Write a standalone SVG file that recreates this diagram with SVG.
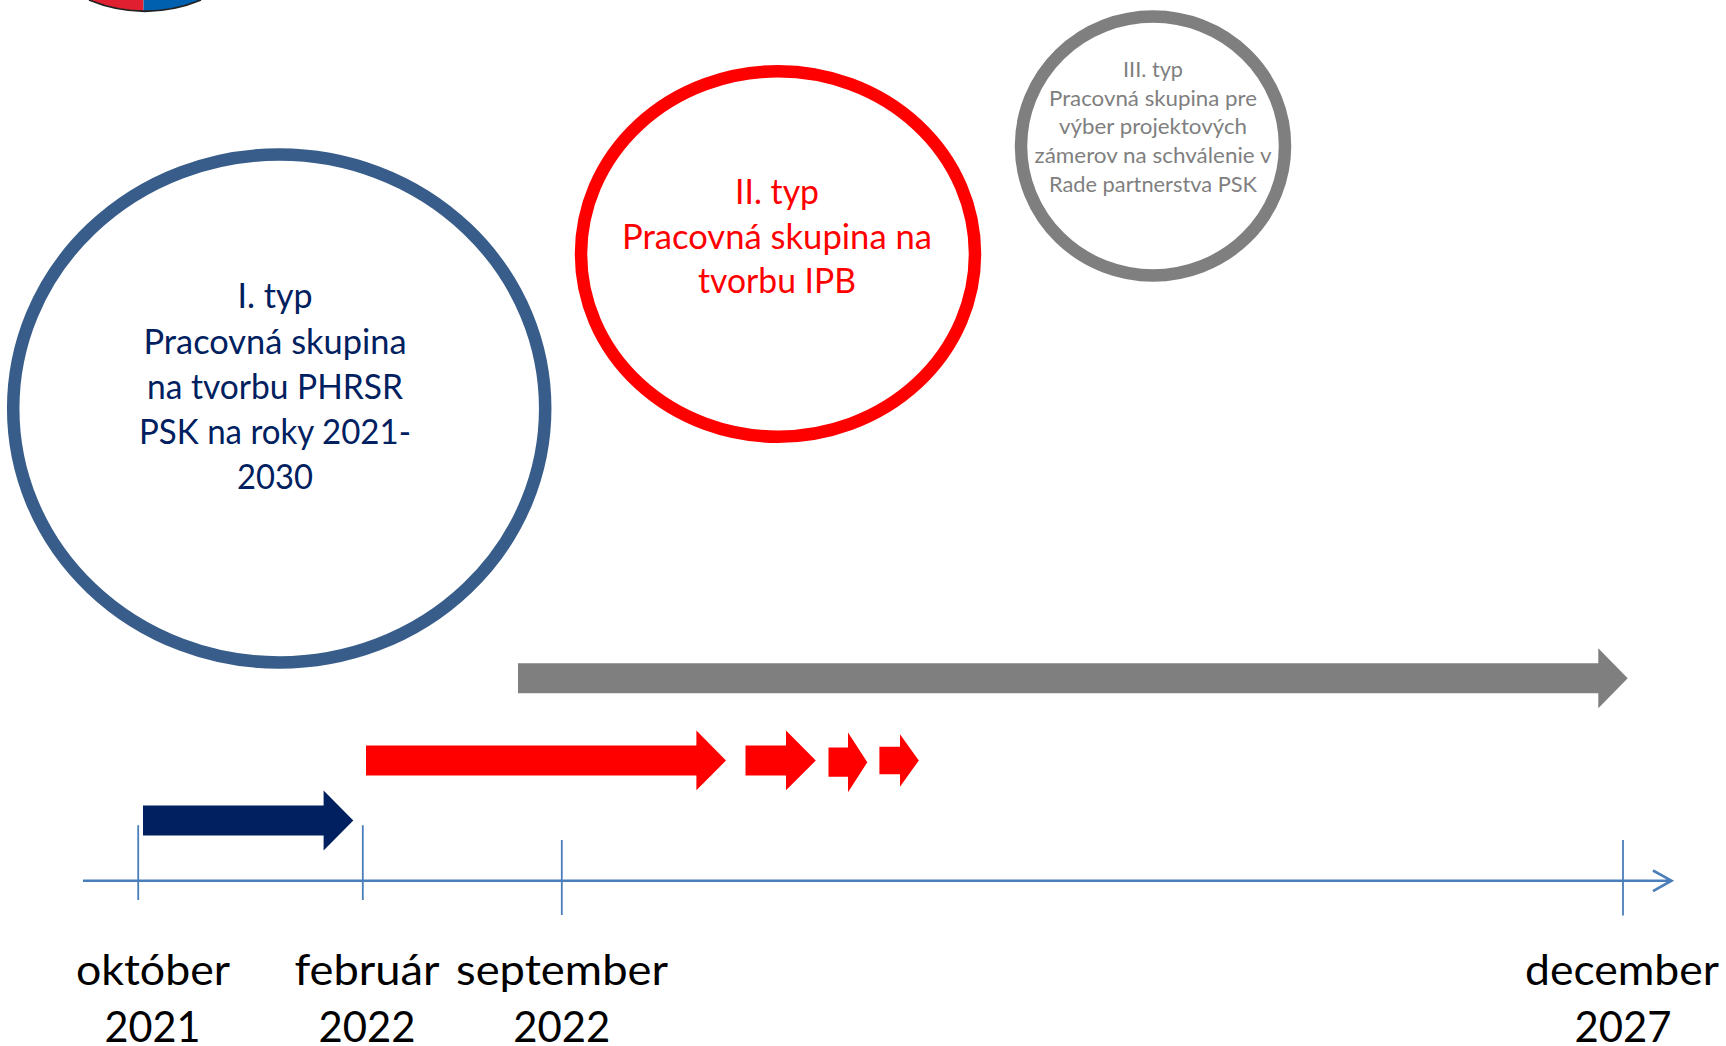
<svg xmlns="http://www.w3.org/2000/svg" width="1726" height="1046" viewBox="0 0 1726 1046">
<style>
text{font-family:"Lato","Liberation Sans",sans-serif;text-anchor:middle}
.r{fill:none;stroke-width:12.5}
.a{stroke:none}
.big{font-size:34px;fill:#002060}
.red{font-size:34px;fill:#f00}
.gr{font-size:21.6px;fill:#7f7f7f}
.lb{font-size:43px;fill:#000}
.t{stroke:#4a7ebb;stroke-width:1.8;fill:none}
.ax{stroke:#4a7ebb;stroke-width:2.6;fill:none}
</style>
<rect width="1726" height="1046" fill="#fff"/>
<g id="logo">
<path d="M89 0 A145 145 0 0 0 143.5 11 V0Z" fill="#e02030"/>
<path d="M143.5 0 V11 A145 145 0 0 0 201 0Z" fill="#0060b0"/>
<path d="M89 0 A145 145 0 0 0 201 0" fill="none" stroke="#222" stroke-width="1.8"/>
</g>
<g id="node-type1">
<ellipse class="r" cx="279.2" cy="408.5" rx="266" ry="254" stroke="#385d8a"/>
<text class="big" x="275" y="308" textLength="75" lengthAdjust="spacingAndGlyphs">I. typ</text>
<text class="big" x="275" y="353.5" textLength="263" lengthAdjust="spacingAndGlyphs">Pracovná skupina</text>
<text class="big" x="275" y="398.5" textLength="256" lengthAdjust="spacingAndGlyphs">na tvorbu PHRSR</text>
<text class="big" x="275" y="443.5" textLength="272" lengthAdjust="spacingAndGlyphs">PSK na roky 2021-</text>
<text class="big" x="275" y="488.5" textLength="76" lengthAdjust="spacingAndGlyphs">2030</text>
</g>
<g id="node-type2">
<ellipse class="r" cx="778" cy="254" rx="197" ry="182.7" stroke="#f00"/>
<text class="red" x="777" y="204" textLength="84" lengthAdjust="spacingAndGlyphs">II. typ</text>
<text class="red" x="777" y="248.5" textLength="310" lengthAdjust="spacingAndGlyphs">Pracovná skupina na</text>
<text class="red" x="777" y="293" textLength="158" lengthAdjust="spacingAndGlyphs">tvorbu IPB</text>
</g>
<g id="node-type3">
<ellipse class="r" cx="1153" cy="146" rx="132" ry="129.5" stroke="#7f7f7f"/>
<text class="gr" x="1153" y="77.3" textLength="60" lengthAdjust="spacingAndGlyphs">III. typ</text>
<text class="gr" x="1153" y="106" textLength="208" lengthAdjust="spacingAndGlyphs">Pracovná skupina pre</text>
<text class="gr" x="1153" y="134" textLength="188" lengthAdjust="spacingAndGlyphs">výber projektových</text>
<text class="gr" x="1153" y="163.3" textLength="237" lengthAdjust="spacingAndGlyphs">zámerov na schválenie v</text>
<text class="gr" x="1153" y="192" textLength="208" lengthAdjust="spacingAndGlyphs">Rade partnerstva PSK</text>
</g>
<g id="connectors">
<path class="a" fill="#7f7f7f" d="M518 663.3H1598.3V648.2L1627.7 678.3 1598.3 708.3V693.3H518Z"/>
<path class="a" fill="#f00" d="M366 745.5H696.4V730.5L726 760.5 696.4 790.2V775.5H366Z"/>
<path class="a" fill="#f00" d="M745.5 745.5H786V730.5L815.8 760.5 786 790.2V775.5H745.5Z"/>
<path class="a" fill="#f00" d="M828.5 747.5H848V732.5L867.3 762.2 848 792.2V776.8H828.5Z"/>
<path class="a" fill="#f00" d="M879.4 746.8H900V734.2L918.8 760.5 900 786.8V774.2H879.4Z"/>
<path class="a" fill="#002060" d="M143 805.5H323.6V790.5L353.3 820.5 323.6 850.5V835.5H143Z"/>
<path class="ax" d="M83 880.7H1671M1653 870.5L1671.5 880.7 1653 891.2"/>
<path class="t" d="M138.2 825.3V900M362.8 825.3V900M561.8 840V915M1623 840V915.5"/>
</g>
<g id="labels">
<text class="lb" x="153" y="984.5" textLength="154" lengthAdjust="spacingAndGlyphs">október</text>
<text class="lb" x="152.5" y="1041.7" textLength="96" lengthAdjust="spacingAndGlyphs">2021</text>
<text class="lb" x="367" y="984.5" textLength="145" lengthAdjust="spacingAndGlyphs">február</text>
<text class="lb" x="367" y="1041.7" textLength="97" lengthAdjust="spacingAndGlyphs">2022</text>
<text class="lb" x="562" y="984.5" textLength="212" lengthAdjust="spacingAndGlyphs">september</text>
<text class="lb" x="561.7" y="1041.7" textLength="97" lengthAdjust="spacingAndGlyphs">2022</text>
<text class="lb" x="1622" y="984.5" textLength="194" lengthAdjust="spacingAndGlyphs">december</text>
<text class="lb" x="1623" y="1041.7" textLength="97" lengthAdjust="spacingAndGlyphs">2027</text>
</g>
</svg>
